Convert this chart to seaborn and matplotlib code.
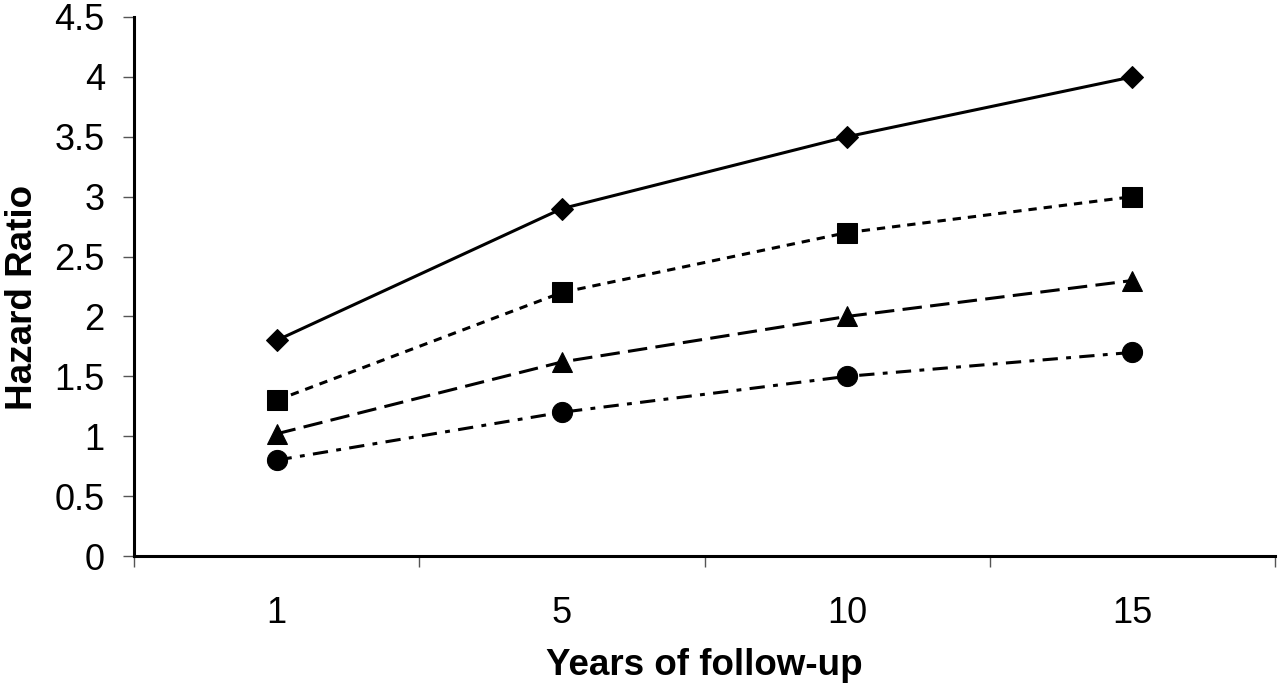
import matplotlib
matplotlib.use('Agg')
import matplotlib.pyplot as plt
import seaborn as sns
import pandas as pd
from matplotlib.ticker import FixedLocator

# data
years = ['1', '5', '10', '15']
hr_diamond = [1.8, 2.9, 3.5, 4.0]
hr_square = [1.3, 2.2, 2.7, 3.0]
hr_triangle = [1.02, 1.62, 2.0, 2.3]
hr_circle = [0.8, 1.2, 1.5, 1.7]
y_ticks = [0, 0.5, 1, 1.5, 2, 2.5, 3, 3.5, 4, 4.5]
y_tick_labels = ['0', '0.5', '1', '1.5', '2', '2.5', '3', '3.5', '4', '4.5']

sns.set_style('white')
plt.rcParams['font.family'] = ['Liberation Sans', 'DejaVu Sans']
plt.rcParams['lines.scale_dashes'] = False
plt.rcParams['text.color'] = 'black'
plt.rcParams['xtick.labelcolor'] = 'black'
plt.rcParams['ytick.labelcolor'] = 'black'
plt.rcParams['axes.labelcolor'] = 'black'

fig = plt.figure(figsize=(12.8, 6.98), dpi=100)
ax = fig.add_axes([134 / 1280, (698 - 556) / 698, (1275 - 134) / 1280, (556 - 17) / 698])

series = [
    (hr_diamond, 'D', 11, '-'),
    (hr_square, 's', 14, (0, (6, 5))),
    (hr_triangle, '^', 15, (0, (14, 6))),
    (hr_circle, 'o', 14.5, (0, (11, 6, 3.5, 6))),
]

for vals, mk, ms, ls in series:
    df = pd.DataFrame({'year': years, 'hr': vals})
    sns.lineplot(data=df, x='year', y='hr', ax=ax, color='black', marker=mk,
                 markersize=ms, linestyle=ls, linewidth=2.2,
                 markeredgecolor='black', markerfacecolor='black')

ax.set_xlim(-0.5, 3.5)
ax.set_ylim(0, 4.5)
ax.set_yticks(y_ticks)
ax.set_yticklabels(y_tick_labels)

# category ticks sit between the categories
ax.xaxis.set_minor_locator(FixedLocator([-0.5, 0.5, 1.5, 2.5, 3.5]))
ax.tick_params(axis='x', which='major', length=0, pad=29, labelsize=26)
ax.tick_params(axis='x', which='minor', bottom=True, length=8, width=1, color='#555555')
ax.tick_params(axis='y', which='major', left=True, length=8, width=1, color='#555555',
               pad=13, labelsize=26)

for s in ['top', 'right']:
    ax.spines[s].set_visible(False)
for s in ['left', 'bottom']:
    ax.spines[s].set_color('black')
    ax.spines[s].set_linewidth(2.2)

ax.set_xlabel('Years of follow-up', fontsize=26.5, fontweight='bold')
ax.set_ylabel('Hazard Ratio', fontsize=26.5, fontweight='bold')
ax.xaxis.set_label_coords(0.5, -0.17)
ax.yaxis.set_label_coords(-0.082, 0.48)

fig.savefig('out.png', dpi=100, facecolor='white')
